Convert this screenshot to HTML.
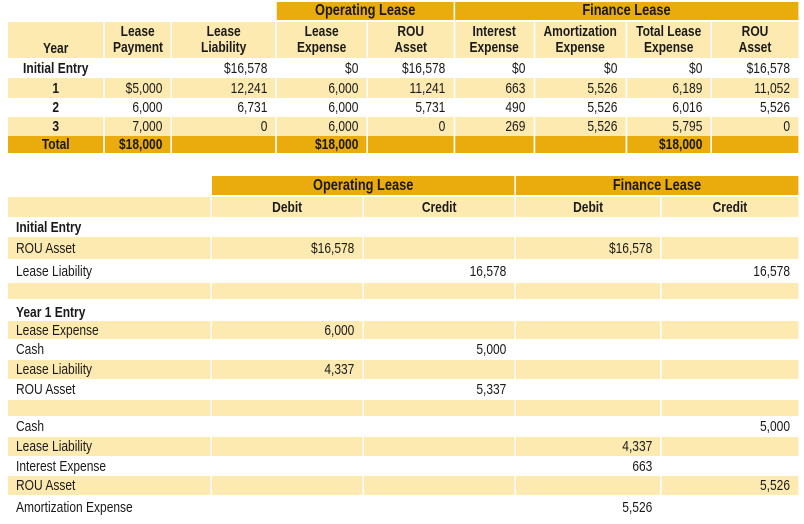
<!DOCTYPE html>
<html><head><meta charset="utf-8"><style>
html,body{margin:0;padding:0;background:#fff;width:804px;height:524px;overflow:hidden}
body{font-family:"Liberation Sans",sans-serif;font-size:15px;color:#1a1a1a;position:relative}
table{position:absolute;border-collapse:separate;border-spacing:0;table-layout:fixed;width:987.5px;transform:scaleX(0.8);transform-origin:0 0}
td{padding:0 10px;white-space:nowrap;border-right:2px solid #fff;text-align:right;overflow:hidden}
td:last-child{border-right:none}
.d{background:#EAAB0C}
.l{background:#FDEAB0}
.b{font-weight:bold}
.c{text-align:center}
.lt{text-align:left;padding-left:10px}
.g td{font-weight:bold;font-size:16px;text-align:center}
</style></head><body>
<table style="left:8px;top:2px">
<colgroup><col style="width:12.28%"><col style="width:8.48%"><col style="width:13.29%"><col style="width:11.52%"><col style="width:11.01%"><col style="width:10.13%"><col style="width:11.65%"><col style="width:10.76%"><col style="width:10.88%"></colgroup>
<tr class="g" style="height:20px"><td></td><td></td><td></td><td class="d" colspan="2" style="border-bottom:2px solid #fff">Operating Lease</td><td class="d" colspan="4" style="border-bottom:2px solid #fff">Finance Lease</td></tr>
<tr class="l b" style="height:36px;line-height:16px"><td class="c" style="vertical-align:bottom;padding-bottom:1px">Year</td><td class="c">Lease<br>Payment</td><td class="c">Lease<br>Liability</td><td class="c">Lease<br>Expense</td><td class="c">ROU<br>Asset</td><td class="c">Interest<br>Expense</td><td class="c">Amortization<br>Expense</td><td class="c">Total Lease<br>Expense</td><td class="c">ROU<br>Asset</td></tr>
<tr style="height:20px"><td class="c b">Initial Entry</td><td></td><td>$16,578</td><td>$0</td><td>$16,578</td><td>$0</td><td>$0</td><td>$0</td><td>$16,578</td></tr>
<tr class="l" style="height:20px"><td class="c b">1</td><td>$5,000</td><td>12,241</td><td>6,000</td><td>11,241</td><td>663</td><td>5,526</td><td>6,189</td><td>11,052</td></tr>
<tr style="height:19px"><td class="c b">2</td><td>6,000</td><td>6,731</td><td>6,000</td><td>5,731</td><td>490</td><td>5,526</td><td>6,016</td><td>5,526</td></tr>
<tr class="l" style="height:19px"><td class="c b">3</td><td>7,000</td><td>0</td><td>6,000</td><td>0</td><td>269</td><td>5,526</td><td>5,795</td><td>0</td></tr>
<tr class="d b" style="height:17px"><td class="c">Total</td><td>$18,000</td><td></td><td>$18,000</td><td></td><td></td><td></td><td>$18,000</td><td></td></tr>
</table>

<table style="left:8px;top:176px">
<colgroup><col style="width:25.82%"><col style="width:19.24%"><col style="width:19.24%"><col style="width:18.48%"><col style="width:17.22%"></colgroup>
<tr class="g" style="height:21px"><td></td><td class="d" colspan="2" style="border-bottom:2px solid #fff">Operating Lease</td><td class="d" colspan="2" style="border-bottom:2px solid #fff">Finance Lease</td></tr>
<tr class="l b" style="height:20px"><td></td><td class="c">Debit</td><td class="c">Credit</td><td class="c">Debit</td><td class="c">Credit</td></tr>
<tr style="height:20px"><td class="lt b">Initial Entry</td><td></td><td></td><td></td><td></td></tr>
<tr class="l" style="height:22px"><td class="lt">ROU Asset</td><td>$16,578</td><td></td><td>$16,578</td><td></td></tr>
<tr style="height:24px"><td class="lt">Lease Liability</td><td></td><td>16,578</td><td></td><td>16,578</td></tr>
<tr class="l" style="height:16px"><td></td><td></td><td></td><td></td><td></td></tr>
<tr style="height:22px"><td class="lt b" style="vertical-align:bottom">Year 1 Entry</td><td></td><td></td><td></td><td></td></tr>
<tr class="l" style="height:18px"><td class="lt">Lease Expense</td><td>6,000</td><td></td><td></td><td></td></tr>
<tr style="height:21px"><td class="lt">Cash</td><td></td><td>5,000</td><td></td><td></td></tr>
<tr class="l" style="height:19px"><td class="lt">Lease Liability</td><td>4,337</td><td></td><td></td><td></td></tr>
<tr style="height:21px"><td class="lt">ROU Asset</td><td></td><td>5,337</td><td></td><td></td></tr>
<tr class="l" style="height:16px"><td></td><td></td><td></td><td></td><td></td></tr>
<tr style="height:21px"><td class="lt">Cash</td><td></td><td></td><td></td><td>5,000</td></tr>
<tr class="l" style="height:19px"><td class="lt">Lease Liability</td><td></td><td></td><td>4,337</td><td></td></tr>
<tr style="height:20px"><td class="lt">Interest Expense</td><td></td><td></td><td>663</td><td></td></tr>
<tr class="l" style="height:19px"><td class="lt">ROU Asset</td><td></td><td></td><td></td><td>5,526</td></tr>
<tr style="height:24px"><td class="lt">Amortization Expense</td><td></td><td></td><td>5,526</td><td></td></tr>
</table>
</body></html>
